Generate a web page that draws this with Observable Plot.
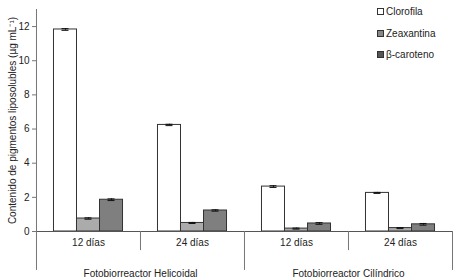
<!DOCTYPE html>
<html><head><meta charset="utf-8">
<script src="https://cdn.jsdelivr.net/npm/d3@7"></script>
<script src="https://cdn.jsdelivr.net/npm/@observablehq/plot@0.6"></script>
<style>
body{margin:0;background:#fff;font-family:"Liberation Sans",Arial,sans-serif;}
#wrap{position:relative;width:459px;height:278px;}
#legend{position:absolute;left:377px;top:1px;font-size:10px;color:#222;}
.item{display:flex;align-items:center;height:21.5px;}
.sw{width:5px;height:5px;border:1px solid #333;margin-right:2px;}
</style></head><body><div id="wrap"><div id="legend"></div></div>
<script>
const keys = ["0", "1", "2", "3"];
const conditions = ["12 días", "24 días", "12 días", "24 días"];
const reactorKeys = ["0", "2"];
const reactors = ["Fotobiorreactor Helicoidal", "Fotobiorreactor Cilíndrico"];
const pigments = ["Clorofila", "Zeaxantina", "β-caroteno"];
const clorofila = [11.83, 6.24, 2.63, 2.26];
const zeaxantina = [0.76, 0.50, 0.17, 0.20];
const betaCaroteno = [1.86, 1.23, 0.47, 0.42];
const errClorofila = [0.05, 0.04, 0.05, 0.03];
const errZeaxantina = [0.04, 0.03, 0.03, 0.03];
const errBeta = [0.05, 0.04, 0.05, 0.05];
const yTicks = [0, 2, 4, 6, 8, 10, 12];
const colors = ["#ffffff", "#ababab", "#7f7f7f"];

const values = [clorofila, zeaxantina, betaCaroteno];
const errs = [errClorofila, errZeaxantina, errBeta];
const rows = keys.flatMap((k, i) => pigments.map((p, j) => ({key: k, pigment: p, value: values[j][i], err: errs[j][i]})));
const groupLabels = reactorKeys.map((k, i) => ({key: k, label: reactors[i]}));

const font = "'Liberation Sans', Arial, sans-serif";
const chart = Plot.plot({
  width: 459, height: 278,
  marginLeft: 36, marginRight: 7, marginTop: 9, marginBottom: 47,
  style: {fontFamily: font, fontSize: "10px", color: "#222", background: "white", overflow: "visible"},
  fx: {domain: keys, padding: 0, label: null, axis: null},
  x: {domain: pigments, paddingInner: 0, paddingOuter: 0.76, round: false, axis: null},
  y: {domain: [0, 13], axis: null},
  color: {domain: pigments, range: colors},
  marks: [
    Plot.barY(rows, {fx: "key", x: "pigment", y: "value", fill: "pigment", stroke: "#333", strokeWidth: 1}),
    Plot.ruleX(rows, {fx: "key", x: "pigment", y1: d => d.value - d.err, y2: d => d.value + d.err, stroke: "#111"}),
    Plot.tickY(rows, {fx: "key", x: "pigment", y: d => d.value + d.err, stroke: "#111", insetLeft: 8, insetRight: 8}),
    Plot.tickY(rows, {fx: "key", x: "pigment", y: d => d.value - d.err, stroke: "#111", insetLeft: 8, insetRight: 8}),
    Plot.ruleY([0], {stroke: "#555"}),
    // left axis line (extends down through category area)
    Plot.ruleX([keys[0]], {fx: d => d, x: () => pigments[0], dx: -29, y1: 13, y2: -2.28, stroke: "#777"}),
    // inner separators
    Plot.ruleX(["1", "3"], {fx: d => d, x: () => pigments[0], dx: -29, y1: 0, y2: -1.12, stroke: "#777"}),
    // group separators
    Plot.ruleX(["2"], {fx: d => d, x: () => pigments[0], dx: -29, y1: 0, y2: -2.28, stroke: "#777"}),
    Plot.ruleX(["3"], {fx: d => d, x: () => pigments[2], dx: 29, y1: 0, y2: -2.28, stroke: "#777"}),
    Plot.axisY({ticks: yTicks, tickSize: 4, tickPadding: 3, stroke: "#777", label: "Contenido de pigmentos liposolubles (µg mL⁻¹)", labelAnchor: "center", labelArrow: "none", labelOffset: 28}),
    Plot.axisFx({anchor: "bottom", tickSize: 0, tickPadding: 7, tickFormat: k => conditions[+k], label: null}),
    Plot.text(groupLabels, {fx: "key", text: "label", frameAnchor: "bottom-right", textAnchor: "middle", lineAnchor: "middle", dy: 42, fill: "#222"})
  ]
});
document.getElementById("wrap").prepend(chart);
const legend = document.getElementById("legend");
pigments.forEach((p, i) => {
  const it = document.createElement("div");
  it.className = "item";
  it.innerHTML = `<span class="sw" style="background:${colors[i] === "#ffffff" ? "#fff" : (i === 1 ? "#888" : "#555")}"></span><span>${p}</span>`;
  legend.appendChild(it);
});
</script></body></html>
